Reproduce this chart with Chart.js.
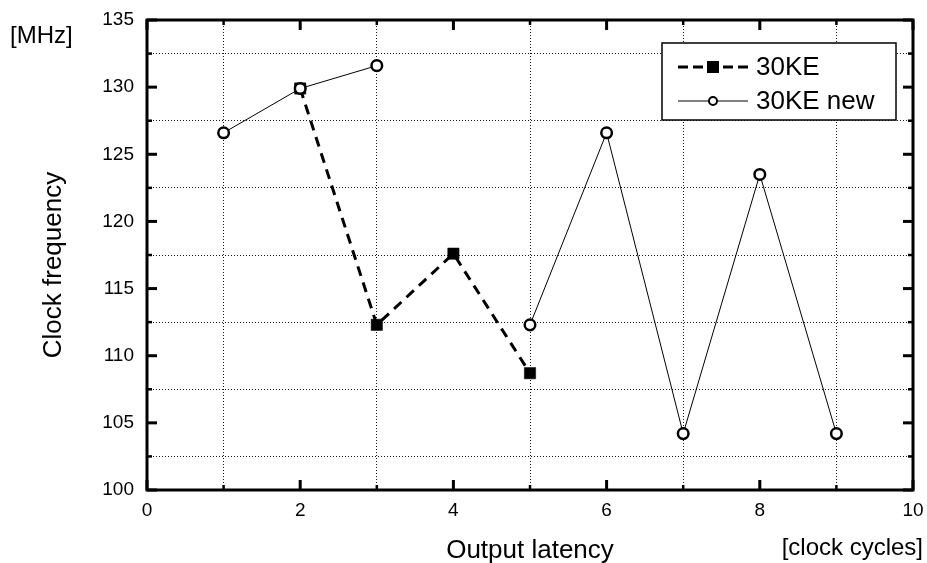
<!DOCTYPE html>
<html>
<head>
<meta charset="utf-8">
<title>Clock frequency vs output latency</title>
<style>
  html, body { margin: 0; padding: 0; background: #fff; }
  #wrap { width: 927px; height: 563px; }
</style>
<script src="https://cdn.jsdelivr.net/npm/chart.js@4.4.1/dist/chart.umd.min.js"></script>
</head>
<body>
<div id="wrap"><canvas id="c" width="927" height="563"></canvas></div>
<script>
// Output latency in clock cycles
const latency30KE = [2, 3, 4, 5];
const latencyNew = [1, 2, 3, 4, 5, 6, 7, 8, 9];
// Clock frequency in MHz (null = no design for that latency)
const freq30KE = [129.9, 112.3, 117.6, 108.7];
const freqNew = [126.6, 129.9, 131.6, null, 112.3, 126.6, 104.2, 123.5, 104.2];
// Labelled (major) tick values
const xMajor = [0, 2, 4, 6, 8, 10];
const yMajor = [100, 105, 110, 115, 120, 125, 130, 135];

const FONT = '"Liberation Sans", Arial, Helvetica, sans-serif';

const toPoints = (xs, ys) => xs.map((x, i) => ({ x: x, y: ys[i] }));

// Keep the plot box fixed: the end labels may overhang the layout padding
const noEdgePadding = s => {
  s.paddingTop = 0; s.paddingBottom = 0; s.paddingLeft = 0; s.paddingRight = 0;
};

// Frame with inward tick marks on all four sides
const framePlugin = {
  id: 'frame',
  afterDatasetsDraw(chart) {
    const { ctx, chartArea: a, scales: { x, y } } = chart;
    ctx.save();
    ctx.strokeStyle = '#000';
    const seg = (x1, y1, x2, y2, w) => {
      ctx.lineWidth = w;
      ctx.beginPath(); ctx.moveTo(x1, y1); ctx.lineTo(x2, y2); ctx.stroke();
    };
    x.ticks.forEach(t => {
      const px = x.getPixelForValue(t.value);
      const major = xMajor.includes(t.value);
      const len = major ? 10 : 5;
      const w = major ? 3 : 2.5;
      seg(px, a.bottom, px, a.bottom - len, w);
      seg(px, a.top, px, a.top + len, w);
    });
    y.ticks.forEach(t => {
      const py = y.getPixelForValue(t.value);
      const major = yMajor.includes(t.value);
      const len = major ? 10 : 5;
      const w = major ? 3 : 2.5;
      seg(a.left, py, a.left + len, py, w);
      seg(a.right, py, a.right - len, py, w);
    });
    ctx.lineWidth = 3;
    ctx.strokeRect(a.left, a.top, a.right - a.left, a.bottom - a.top);
    ctx.restore();
  }
};

// Axis titles and units
const titlesPlugin = {
  id: 'titles',
  afterDraw(chart) {
    const { ctx, chartArea: a } = chart;
    ctx.save();
    ctx.fillStyle = '#000';
    ctx.textBaseline = 'alphabetic';

    ctx.font = '26px ' + FONT;
    ctx.textAlign = 'center';
    ctx.fillText('Output latency', (a.left + a.right) / 2, 558);

    ctx.font = '24px ' + FONT;
    ctx.textAlign = 'right';
    ctx.fillText('[clock cycles]', 923, 555);

    ctx.textAlign = 'left';
    ctx.fillText('[MHz]', 10, 43);

    ctx.font = '26px ' + FONT;
    ctx.translate(61, 265);
    ctx.rotate(-Math.PI / 2);
    ctx.textAlign = 'center';
    ctx.fillText('Clock frequency', 0, 0);
    ctx.restore();
  }
};

// Boxed legend inside the plot, drawn from the dataset styles
const legendPlugin = {
  id: 'boxLegend',
  afterDraw(chart) {
    const { ctx } = chart;
    const box = { x: 662, y: 43, w: 234, h: 77 };
    ctx.save();
    ctx.fillStyle = '#fff';
    ctx.fillRect(box.x, box.y, box.w, box.h);
    ctx.strokeStyle = '#000';
    ctx.lineWidth = 1.5;
    ctx.strokeRect(box.x, box.y, box.w, box.h);

    const rows = [67, 101];
    chart.data.datasets.forEach((ds, i) => {
      const yy = rows[i];
      ctx.strokeStyle = ds.borderColor;
      ctx.lineWidth = ds.borderWidth;
      ctx.setLineDash(ds.legendDash || []);
      ctx.beginPath(); ctx.moveTo(678, yy); ctx.lineTo(748, yy); ctx.stroke();
      ctx.setLineDash([]);
      if (ds.pointStyle === 'rect') {
        ctx.fillStyle = ds.pointBackgroundColor;
        ctx.fillRect(713 - 6, yy - 6, 12, 12);
      } else {
        ctx.fillStyle = ds.pointBackgroundColor;
        ctx.lineWidth = 2;
        ctx.beginPath(); ctx.arc(713, yy, 4, 0, Math.PI * 2); ctx.fill(); ctx.stroke();
      }
      ctx.fillStyle = '#000';
      ctx.font = '26px ' + FONT;
      ctx.textAlign = 'left';
      ctx.textBaseline = 'middle';
      ctx.fillText(ds.label, 756, yy + 1);
    });
    ctx.restore();
  }
};

new Chart(document.getElementById('c'), {
  type: 'line',
  data: {
    datasets: [
      {
        label: '30KE',
        data: toPoints(latency30KE, freq30KE),
        borderColor: '#000',
        borderWidth: 3,
        borderDash: [10, 7],
        legendDash: [10, 5],
        pointStyle: 'rect',
        pointRadius: 8,
        pointBorderWidth: 0.5,
        pointBackgroundColor: '#000',
        pointBorderColor: '#000',
        order: 2
      },
      {
        label: '30KE new',
        data: toPoints(latencyNew, freqNew),
        borderColor: '#000',
        borderWidth: 1,
        spanGaps: false,
        pointStyle: 'circle',
        pointRadius: 5.3,
        pointBorderWidth: 2.5,
        pointBackgroundColor: '#fff',
        pointBorderColor: '#000',
        order: 1
      }
    ]
  },
  options: {
    responsive: false,
    animation: false,
    devicePixelRatio: 1,
    layout: { padding: { left: 0, top: 20, right: 14, bottom: 0 } },
    plugins: { legend: { display: false }, tooltip: { enabled: false } },
    elements: { line: { tension: 0 } },
    scales: {
      x: {
        type: 'linear',
        min: 0, max: 10,
        afterBuildTicks: s => { s.ticks = Array.from({ length: 11 }, (_, i) => ({ value: i })); },
        afterFit: s => { s.height = 73; noEdgePadding(s); },
        ticks: {
          autoSkip: false, maxRotation: 0, padding: 9, color: '#000',
          font: { family: FONT, size: 19 },
          callback: v => xMajor.includes(v) ? String(v) : ''
        },
        grid: {
          drawTicks: false, lineWidth: 1,
          color: c => (c.tick && !xMajor.includes(c.tick.value)) ? '#1a1a1a' : 'rgba(0,0,0,0)'
        },
        border: { display: false, dash: [1, 2] }
      },
      y: {
        type: 'linear',
        min: 100, max: 135,
        afterBuildTicks: s => { s.ticks = Array.from({ length: 15 }, (_, i) => ({ value: 100 + i * 2.5 })); },
        afterFit: s => { s.width = 147; noEdgePadding(s); },
        ticks: {
          autoSkip: false, padding: 13, color: '#000',
          font: { family: FONT, size: 19 },
          callback: v => yMajor.includes(v) ? String(v) : ''
        },
        grid: {
          drawTicks: false, lineWidth: 1,
          color: c => (c.tick && !yMajor.includes(c.tick.value)) ? '#1a1a1a' : 'rgba(0,0,0,0)'
        },
        border: { display: false, dash: [1, 2] }
      }
    }
  },
  plugins: [framePlugin, titlesPlugin, legendPlugin]
});
</script>
</body>
</html>
